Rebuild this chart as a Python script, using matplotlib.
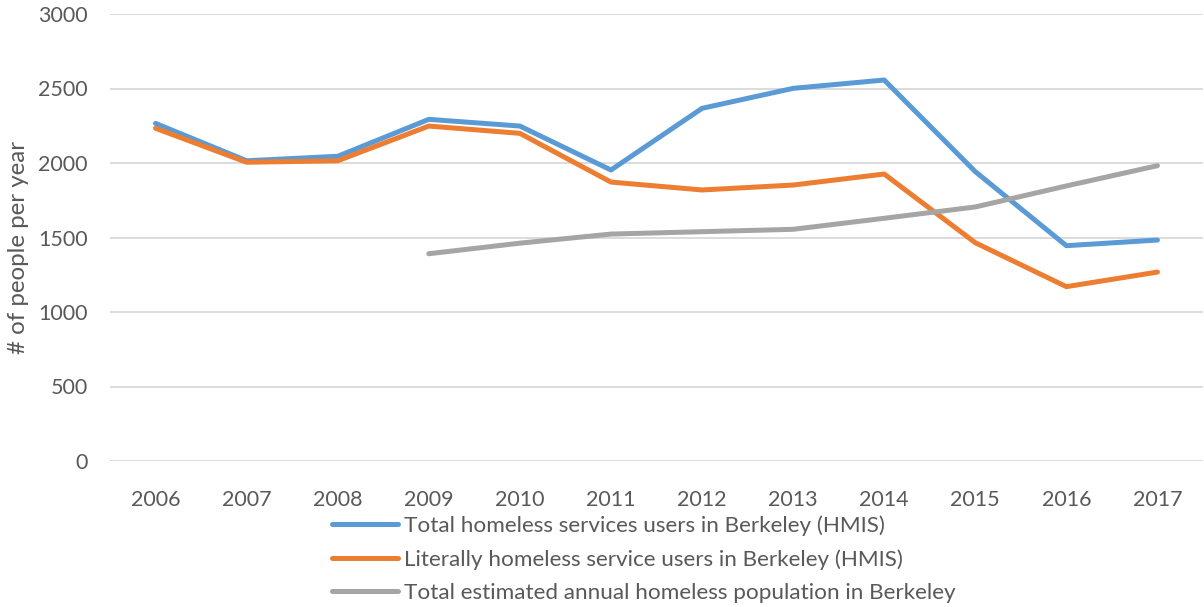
import matplotlib
matplotlib.use("Agg")
import matplotlib.pyplot as plt
import numpy as np

years = ["2006", "2007", "2008", "2009", "2010", "2011", "2012", "2013", "2014", "2015", "2016", "2017"]
total_hmis = [2266, 2015, 2045, 2293, 2248, 1953, 2367, 2501, 2557, 1942, 1445, 1483]
literal_hmis = [2233, 2005, 2015, 2248, 2199, 1872, 1819, 1852, 1926, 1465, 1170, 1268]
estimated_pop = [None, None, None, 1391, 1462, 1523, 1539, 1555, 1629, 1705, 1846, 1982]
y_ticks = [0, 500, 1000, 1500, 2000, 2500, 3000]

labels = ["Total homeless services users in Berkeley (HMIS)",
          "Literally homeless service users in Berkeley (HMIS)",
          "Total estimated annual homeless population in Berkeley"]
colors = ["#5B9BD5", "#ED7D31", "#A5A5A5"]

plt.rcParams['font.family'] = ['Lato', 'DejaVu Sans']
TXT = "#595959"
W, H = 1204, 607
fig = plt.figure(figsize=(W / 100, H / 100), dpi=100)
left, right, top, bottom = 110, 1203, 14, 461
ax = fig.add_axes([left / W, 1 - bottom / H, (right - left) / W, (bottom - top) / H])

x = np.arange(len(years))
series = [total_hmis, literal_hmis, estimated_pop]
handles = []
for vals, col, lab in zip(series, colors, labels):
    v = np.array([np.nan if a is None else a for a in vals], dtype=float)
    h, = ax.plot(x, v, color=col, lw=3.6, solid_capstyle='round', solid_joinstyle='round', label=lab, zorder=3)
    handles.append(h)

ax.set_xlim(-0.5, len(years) - 0.5)
ax.set_ylim(0, 3000)
ax.set_yticks(y_ticks)
ax.set_yticklabels([str(t) for t in y_ticks])
ax.set_xticks(x)
ax.set_xticklabels(years)
ax.grid(axis='y', color='#D9D9D9', lw=1.3, zorder=0)
ax.grid(axis='x', visible=False)
for s in ax.spines.values():
    s.set_visible(False)
ax.tick_params(axis='both', length=0, labelsize=15.5, labelcolor=TXT)
ax.tick_params(axis='x', pad=21)
ax.tick_params(axis='y', pad=16)

fig.text(19 / W, 1 - 247 / H, "# of people per year", rotation=90, ha='center', va='center',
         fontsize=17.4, color=TXT)

leg = fig.legend(handles=handles, labels=labels, loc='upper left',
                 bbox_to_anchor=(332 / W, 1 - 515 / H), frameon=False, fontsize=16.2,
                 handlelength=2.95, handletextpad=0.27, labelspacing=0.6, borderpad=0,
                 borderaxespad=0)
for t in leg.get_texts():
    t.set_color(TXT)

fig.savefig("out.png", dpi=100)
